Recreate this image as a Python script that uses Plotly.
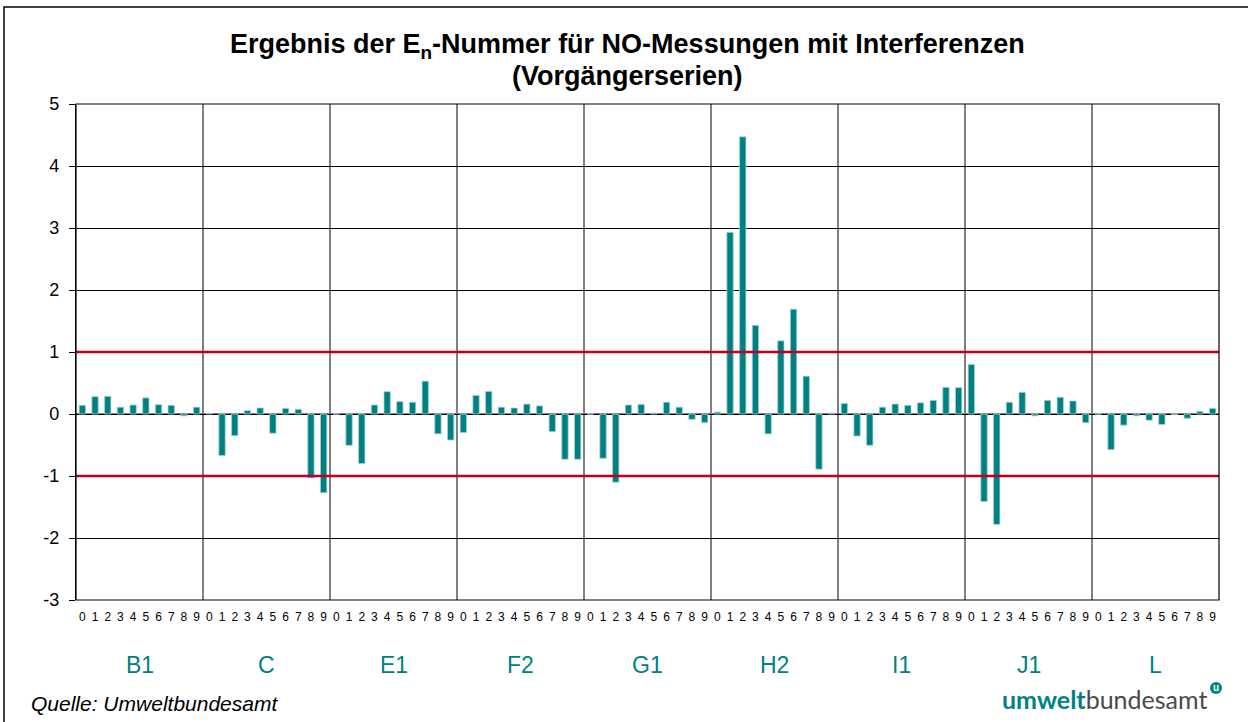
import plotly.graph_objects as go

groups = ["B1", "C", "E1", "F2", "G1", "H2", "I1", "J1", "L"]
sub_labels = ["0", "1", "2", "3", "4", "5", "6", "7", "8", "9"]

values_B1 = [0.14, 0.28, 0.285, 0.11, 0.145, 0.26, 0.15, 0.14, -0.03, 0.11]
values_C = [0.01, -0.67, -0.35, 0.054, 0.097, -0.31, 0.09, 0.075, -1.03, -1.27]
values_E1 = [0.0, -0.505, -0.8, 0.145, 0.36, 0.20, 0.19, 0.53, -0.32, -0.42]
values_F2 = [-0.30, 0.30, 0.365, 0.11, 0.097, 0.16, 0.13, -0.285, -0.73, -0.73]
values_G1 = [0.0, -0.715, -1.10, 0.145, 0.156, 0.016, 0.19, 0.11, -0.086, -0.14]
values_H2 = [0.03, 2.93, 4.47, 1.43, -0.32, 1.18, 1.69, 0.61, -0.89, 0.015]
values_I1 = [0.17, -0.355, -0.505, 0.11, 0.16, 0.14, 0.18, 0.22, 0.43, 0.425]
values_J1 = [0.80, -1.41, -1.78, 0.19, 0.35, -0.03, 0.22, 0.27, 0.21, -0.14]
values_L = [0.0, -0.575, -0.18, -0.03, -0.10, -0.17, -0.005, -0.07, 0.04, 0.09]

all_values = [values_B1, values_C, values_E1, values_F2, values_G1,
              values_H2, values_I1, values_J1, values_L]

y_ticks = [-3, -2, -1, 0, 1, 2, 3, 4, 5]
limit_lines = [-1, 1]

title_line1 = "Ergebnis der E<sub>n</sub>-Nummer für NO-Messungen mit Interferenzen"
title_line2 = "(Vorgängerserien)"

n_sub = len(sub_labels)
xs, ys, ticktext = [], [], []
for gi, vals in enumerate(all_values):
    for si, v in enumerate(vals):
        xs.append(gi * n_sub + si)
        ys.append(v)
        ticktext.append(sub_labels[si])

TEAL = "#008080"
LOGO_TEAL = "#00837e"
FONT = "Liberation Sans, Arial"

fig = go.Figure()
fig.add_trace(go.Bar(
    x=xs, y=ys, width=0.5,
    marker=dict(color=TEAL, line=dict(color="#a6d3d3", width=0.8)),
    hoverinfo="x+y", showlegend=False,
))

W, H = 1248, 722
ml, mr, mt, mb = 76, 29, 104, 122
pw, ph = W - ml - mr, H - mt - mb

def px_to_paper_x(px):
    return (px - ml) / pw

def px_to_paper_y(py):
    return (H - mb - py) / ph

shapes = []
for gi in range(1, len(groups)):
    shapes.append(dict(type="line", xref="x", yref="paper",
                       x0=gi * n_sub - 0.5, x1=gi * n_sub - 0.5, y0=0, y1=1,
                       line=dict(color="#000000", width=1), layer="below"))
shapes.append(dict(type="line", xref="paper", yref="y", x0=0, x1=1, y0=0, y1=0,
                   line=dict(color="#808080", width=2), layer="below"))
for lv in limit_lines:
    shapes.append(dict(type="line", xref="paper", yref="y", x0=0, x1=1, y0=lv, y1=lv,
                       line=dict(color="#c0001e", width=2.5), layer="above"))
shapes.append(dict(type="rect", xref="paper", yref="paper",
                   x0=px_to_paper_x(4), x1=px_to_paper_x(1260),
                   y0=px_to_paper_y(735), y1=px_to_paper_y(7),
                   line=dict(color="#000000", width=1.5), fillcolor="rgba(0,0,0,0)"))
shapes.append(dict(type="rect", xref="paper", yref="paper", x0=0, x1=1, y0=0, y1=1,
                   line=dict(color="#000000", width=1.2), fillcolor="rgba(0,0,0,0)"))
shapes.append(dict(type="circle", xref="paper", yref="paper",
                   x0=px_to_paper_x(1210), x1=px_to_paper_x(1222),
                   y0=px_to_paper_y(694), y1=px_to_paper_y(682),
                   line=dict(color=LOGO_TEAL, width=0), fillcolor=LOGO_TEAL))

annotations = []
annotations.append(dict(x=px_to_paper_x(627), xref="paper", y=px_to_paper_y(46), yref="paper",
                        text="<b>" + title_line1 + "</b>", showarrow=False,
                        font=dict(family=FONT, size=27, color="#000000"),
                        xanchor="center", yanchor="middle"))
annotations.append(dict(x=px_to_paper_x(627), xref="paper", y=px_to_paper_y(76), yref="paper",
                        text="<b>" + title_line2 + "</b>", showarrow=False,
                        font=dict(family=FONT, size=27, color="#000000"),
                        xanchor="center", yanchor="middle"))
for gi, g in enumerate(groups):
    annotations.append(dict(x=gi * n_sub + 4.5, xref="x", y=px_to_paper_y(665), yref="paper",
                            text=g, showarrow=False,
                            font=dict(family=FONT, size=23, color=TEAL),
                            xanchor="center", yanchor="middle"))
annotations.append(dict(x=px_to_paper_x(29), xref="paper", y=px_to_paper_y(703), yref="paper",
                        text="<i>Quelle: Umweltbundesamt</i>", showarrow=False,
                        font=dict(family=FONT, size=21, color="#000000"),
                        xanchor="left", yanchor="middle"))
annotations.append(dict(x=px_to_paper_x(1209), xref="paper", y=px_to_paper_y(699), yref="paper",
                        text="<b><span style='color:#00837e'>umwelt</span></b>"
                             "<span style='color:#4a4a4a'>bundesamt</span>",
                        showarrow=False,
                        font=dict(family="Lato, Liberation Sans", size=25, color="#4a4a4a"),
                        xanchor="right", yanchor="middle"))
annotations.append(dict(x=px_to_paper_x(1216), xref="paper", y=px_to_paper_y(687.5), yref="paper",
                        text="<b>u</b>", showarrow=False,
                        font=dict(family=FONT, size=10, color="#ffffff"),
                        xanchor="center", yanchor="middle"))

fig.update_layout(
    width=W, height=H,
    margin=dict(l=ml, r=mr, t=mt, b=mb),
    paper_bgcolor="white", plot_bgcolor="white",
    xaxis=dict(
        range=[-0.5, len(xs) - 0.5],
        tickmode="array", tickvals=xs, ticktext=ticktext,
        tickfont=dict(family=FONT, size=12, color="#000000"),
        ticks="", showgrid=False, zeroline=False, showline=False,
        tickangle=0, ticklabelstandoff=8,
    ),
    yaxis=dict(
        range=[-3, 5],
        tickmode="array", tickvals=y_ticks, ticktext=[str(t) for t in y_ticks],
        tickfont=dict(family=FONT, size=18, color="#000000"),
        ticks="outside", ticklen=6, tickcolor="#000000",
        ticklabelstandoff=6,
        showgrid=True, gridcolor="#000000", gridwidth=1,
        zeroline=False, showline=True, linecolor="#000000", linewidth=1.2,
        layer="below traces",
    ),
    shapes=shapes, annotations=annotations,
    bargap=0.5,
)

fig.write_html("out.html", config={"displayModeBar": False},
               post_script="document.body.style.margin='0';document.body.style.overflow='hidden';")
